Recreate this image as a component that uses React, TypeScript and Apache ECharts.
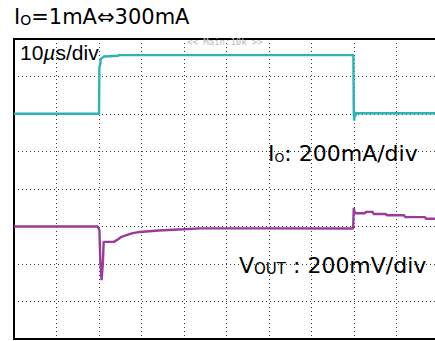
import React, { useEffect, useRef } from "react";
import * as echarts from "echarts";

// time axis: µs (10 µs/div, 10 divisions)
const timeTicks = [0, 10, 20, 30, 40, 50, 60, 70, 80, 90, 100];

// Io trace [time µs, current mA]
const ioTime = [0, 10, 20.0, 20.1, 20.3, 20.4, 21.2, 21.4, 24.5, 24.7, 40, 60, 79.85, 79.95, 80.05, 80.15, 80.3, 80.6, 90, 100];
const ioValue = [1, 1, 1, 252, 265, 294, 307, 307, 311, 314, 314, 314, 314, 1, -36, 12, -10, 4, 4, 4];

// Vout trace [time µs, deviation mV]
const voutTime = [0, 10, 19.7, 20.1, 20.3, 20.6, 20.9, 21.1, 23.5, 24.5, 25.3, 26.5, 27.7, 29.6, 34.0, 39.8, 43.8, 58, 79.8, 79.95, 80.1, 80.3, 82.6, 82.8, 84.4, 84.6, 87.5, 87.7, 91.8, 92.0, 96.7, 96.9, 100];
const voutValue = [0, 0, 0, -20, -180, -286, -200, -82, -82, -68, -55, -46, -37, -29, -21, -15, -10, -10, -11, 100, 80, 71, 71, 78, 78, 67, 67, 60, 60, 50, 50, 41, 41];

const titleText = ["I", "O", "=1mA⇔300mA"];
const timeLabel = ["10", "µ", "s/div"];
const ioLabel = ["I", "O", ": 200mA/div"];
const voutLabel = ["V", "OUT", " : 200mV/div"];
const markerText = "<< Main:10k >>";

export default function App() {
  const ref = useRef<HTMLDivElement>(null);
  useEffect(() => {
    if (!ref.current) return;
    const chart = echarts.init(ref.current, null, { renderer: "svg" });
    const ioData = ioTime.map((t, i) => [t, ioValue[i]]);
    const voutData = voutTime.map((t, i) => [t, voutValue[i]]);
    const dotted = { type: [1, 3] as any, color: "#3a3a3a", width: 1 };
    chart.setOption({
      animation: false,
      backgroundColor: "#fff",
      grid: {
        left: 14,
        top: 39,
        width: 425,
        height: 300,
        show: true,
        borderColor: "#000",
        borderWidth: 2,
        backgroundColor: "transparent",
        z: 3,
      },
      xAxis: {
        type: "value",
        min: timeTicks[0],
        max: timeTicks[timeTicks.length - 1],
        interval: 10,
        axisLine: { show: false },
        axisTick: { show: false },
        axisLabel: { show: false },
        splitLine: { show: true, lineStyle: dotted },
      },
      yAxis: [
        {
          type: "value",
          min: -1200,
          max: 400,
          interval: 200,
          axisLine: { show: false },
          axisTick: { show: false },
          axisLabel: { show: false },
          splitLine: { show: true, lineStyle: dotted },
        },
        {
          type: "value",
          min: -600,
          max: 1000,
          interval: 200,
          axisLine: { show: false },
          axisTick: { show: false },
          axisLabel: { show: false },
          splitLine: { show: false },
        },
      ],
      series: [
        {
          type: "line",
          yAxisIndex: 0,
          data: ioData,
          showSymbol: false,
          lineStyle: { color: "#2ab4b4", width: 2.4 },
          z: 4,
        },
        {
          type: "line",
          yAxisIndex: 1,
          data: voutData,
          showSymbol: false,
          lineStyle: { color: "#9a3a9a", width: 2.4 },
          z: 4,
        },
      ],
      graphic: [
        {
          type: "text",
          x: 14,
          y: 27,
          style: {
            text: `{a|${titleText[0]}}{s|${titleText[1]}}{a|${titleText[2]}}`,
            textVerticalAlign: "bottom",
            rich: {
              a: { fontFamily: "DejaVu Sans", fontSize: 21, fill: "#000" },
              s: { fontFamily: "DejaVu Sans", fontSize: 14, fill: "#000", verticalAlign: "bottom" },
            },
            fill: "#000",
          } as any,
          z: 10,
        },
        {
          type: "text",
          x: 20,
          y: 63,
          style: {
            text: `{a|${timeLabel[0]}}{i|${timeLabel[1]}}{a|${timeLabel[2]}}`,
            textVerticalAlign: "bottom",
            rich: {
              a: { fontFamily: "Liberation Sans", fontSize: 21, fill: "#000" },
              i: { fontFamily: "Liberation Sans", fontSize: 21, fontStyle: "italic", fill: "#000" },
            },
          } as any,
          z: 10,
        },
        {
          type: "text",
          x: 225,
          y: 42,
          style: {
            text: markerText,
            fontFamily: "DejaVu Sans Mono",
            fontSize: 9,
            fill: "#b8b8b8",
            textAlign: "center",
            textVerticalAlign: "middle",
          } as any,
          z: 10,
        },
        {
          type: "text",
          x: 268,
          y: 164,
          style: {
            text: `{a|${ioLabel[0]}}{s|${ioLabel[1]}}{a|${ioLabel[2]}}`,
            textVerticalAlign: "bottom",
            rich: {
              a: { fontFamily: "DejaVu Sans", fontSize: 22, fill: "#000" },
              s: { fontFamily: "DejaVu Sans", fontSize: 12.5, fill: "#000", verticalAlign: "bottom" },
            },
          } as any,
          z: 10,
        },
        {
          type: "text",
          x: 239,
          y: 276,
          style: {
            text: `{a|${voutLabel[0]}}{s|${voutLabel[1]}}{a|${voutLabel[2]}}`,
            textVerticalAlign: "bottom",
            rich: {
              a: { fontFamily: "DejaVu Sans", fontSize: 22, fill: "#000" },
              s: { fontFamily: "DejaVu Sans", fontSize: 15, fill: "#000", verticalAlign: "bottom" },
            },
          } as any,
          z: 10,
        },
      ],
    });
    return () => chart.dispose();
  }, []);
  return (
    <div
      style={{ position: "fixed", left: 0, top: 0, width: 435, height: 341, overflow: "hidden", background: "#fff" }}
    >
      <div ref={ref} style={{ width: 445, height: 341 }} />
    </div>
  );
}
